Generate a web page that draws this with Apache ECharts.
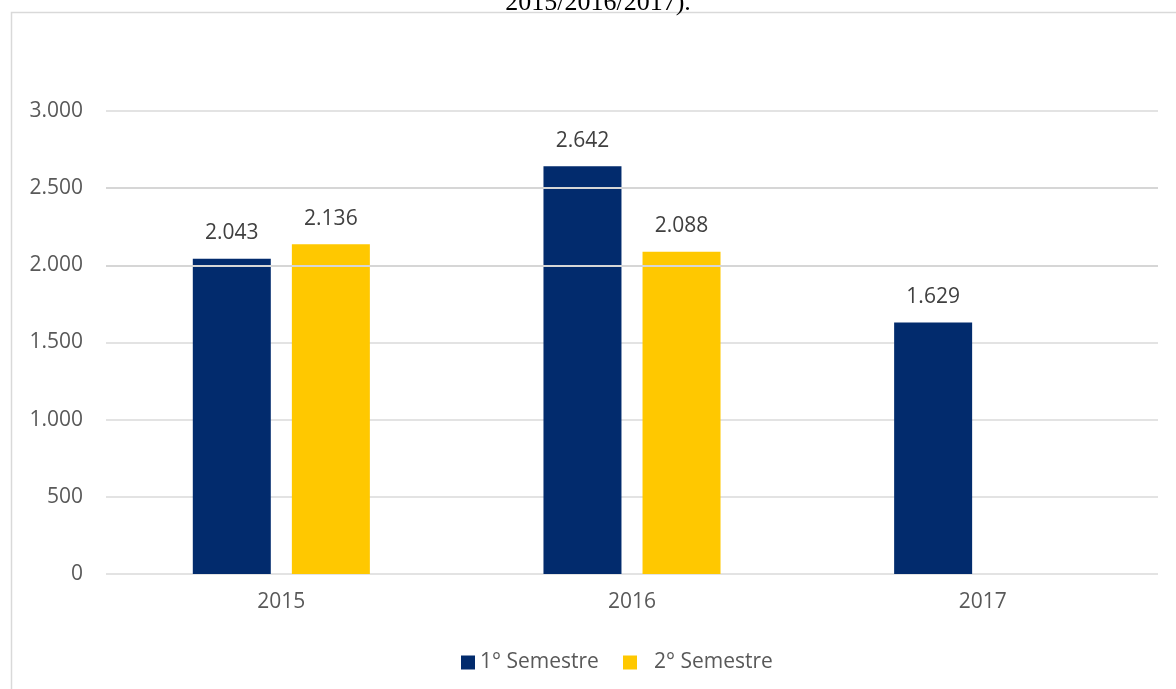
<!DOCTYPE html>
<html>
<head>
<meta charset="utf-8">
<script src="https://cdn.jsdelivr.net/npm/echarts@6/dist/echarts.min.js"></script>
<style>html,body{margin:0;padding:0;background:#fff;}#c{width:1176px;height:689px;}</style>
</head>
<body>
<div id="c"></div>
<script>
var categories = ['2015', '2016', '2017'];
var semestre1 = [2043, 2642, 1629];
var semestre2 = [2136, 2088, null];
var seriesNames = ['1° Semestre', '2° Semestre'];
var yTicks = [0, 500, 1000, 1500, 2000, 2500, 3000];
var overlayGridValues = [2000, 2500];
var titleText = '2015/2016/2017).';

var FONT = 'Open Sans';
function fmt(v) {
  return String(v).replace(/\B(?=(\d{3})+(?!\d))/g, '.');
}
var chart = echarts.init(document.getElementById('c'), null, {renderer: 'canvas'});
var labelStyle = {
  show: true, position: 'top', distance: 15,
  color: '#404040', fontFamily: FONT, fontSize: 21, lineHeight: 21,
  formatter: function (p) { return fmt(p.value); }
};
chart.setOption({
  animation: false,
  backgroundColor: '#ffffff',
  graphic: [
    {type: 'rect', silent: true, shape: {x: 11.5, y: 12.5, width: 1400, height: 900},
     style: {fill: 'none', stroke: '#d9d9d9', lineWidth: 1.5}},
    {type: 'text', silent: true, x: 598, y: 3,
     style: {text: titleText, font: '26px "Liberation Serif"', fill: '#000', align: 'center', verticalAlign: 'middle'}}
  ],
  grid: {left: 106, right: 18, top: 111, bottom: 115, containLabel: false},
  legend: [
    {data: [seriesNames[0]], left: 456, top: 647, icon: 'rect', itemWidth: 14, itemHeight: 14, itemGap: 0,
     textStyle: {color: '#595959', fontFamily: FONT, fontSize: 21}},
    {data: [seriesNames[1]], left: 618, top: 647, icon: 'rect', itemWidth: 14, itemHeight: 14, itemGap: 0,
     textStyle: {color: '#595959', fontFamily: FONT, fontSize: 21, padding: [0, 0, 0, 12]}}
  ],
  xAxis: {
    type: 'category', data: categories,
    axisLine: {show: false}, axisTick: {show: false},
    axisLabel: {color: '#595959', fontFamily: FONT, fontSize: 21, margin: 18}
  },
  yAxis: {
    type: 'value', min: yTicks[0], max: yTicks[yTicks.length - 1], interval: 500,
    axisLine: {show: false}, axisTick: {show: false},
    splitLine: {show: true, lineStyle: {color: '#e3e3e3', width: 2}},
    axisLabel: {color: '#595959', fontFamily: FONT, fontSize: 21, margin: 23, formatter: function (v) { return fmt(v); }}
  },
  series: [
    {name: seriesNames[0], type: 'bar', data: semestre1, barWidth: 78, barGap: '27%',
     itemStyle: {color: '#022B6D'}, label: labelStyle},
    {name: seriesNames[1], type: 'bar', data: semestre2, barWidth: 78,
     itemStyle: {color: '#FFC800'}, label: labelStyle,
     markLine: {silent: true, symbol: ['none', 'none'], label: {show: false}, z: 10,
       lineStyle: {color: '#d6d6d6', width: 2, type: 'solid'},
       data: overlayGridValues.map(function (v) { return {yAxis: v}; })}}
  ]
});
</script>
</body>
</html>
